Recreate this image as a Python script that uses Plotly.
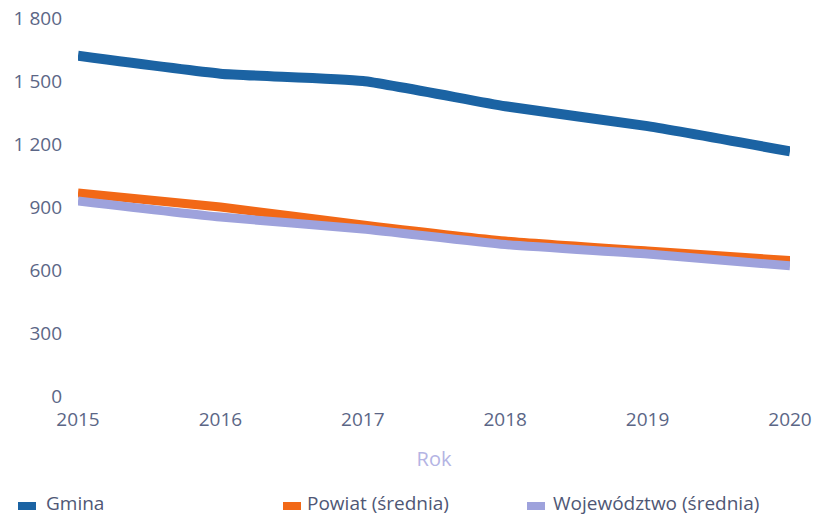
import plotly.graph_objects as go

years = [2015, 2016, 2017, 2018, 2019, 2020]
gmina = [1620, 1535, 1500, 1380, 1285, 1165]
powiat = [967, 900, 815, 738, 690, 645]
wojewodztwo = [929, 852, 795, 721, 676, 620]
series_names = ["Gmina", "Powiat (średnia)", "Województwo (średnia)"]
y_ticks = [0, 300, 600, 900, 1200, 1500, 1800]

colors = ["#1b63a3", "#f26816", "#9ea2dc"]
widths = [10, 9, 9]

W, H = 816, 518
L, R, T, B = 78, 26, 18, 122
pw, ph = W - L - R, H - T - B

def px_x(x):
    return (x - L) / pw

def px_y(y):
    return (H - B - y) / ph

fig = go.Figure()
for name, vals, c, w in zip(series_names, [gmina, powiat, wojewodztwo], colors, widths):
    fig.add_trace(go.Scatter(
        x=years, y=vals, name=name, mode="lines",
        line=dict(color=c, width=w, shape="spline", smoothing=0.5),
        cliponaxis=False, showlegend=False,
    ))

font = "Open Sans, DejaVu Sans, sans-serif"
tick_color = "#5b6686"

# manual legend
legend_pos = [(18, 44), (283, 305), (527, 551)]
shapes = []
annotations = []
for (sx, tx), name, c in zip(legend_pos, series_names, colors):
    shapes.append(dict(type="rect", xref="paper", yref="paper",
                       x0=px_x(sx), x1=px_x(sx + 18), y0=px_y(510), y1=px_y(502),
                       fillcolor=c, line=dict(width=0)))
    annotations.append(dict(text=name, xref="paper", yref="paper",
                            x=px_x(tx), y=px_y(503), xanchor="left", yanchor="middle",
                            showarrow=False, font=dict(family=font, size=19, color="#4f5775")))

fig.update_layout(
    width=W, height=H,
    margin=dict(l=L, r=R, t=T, b=B, autoexpand=False),
    paper_bgcolor="white", plot_bgcolor="white",
    separators=", ",
    font=dict(family=font, size=19, color=tick_color),
    shapes=shapes, annotations=annotations,
    showlegend=False,
    xaxis=dict(
        range=[2015, 2020], tickvals=years, showgrid=False, zeroline=False,
        showline=False, ticks="", ticklabelstandoff=10, automargin=False,
        tickfont=dict(size=19, color=tick_color),
        title=dict(text="Rok", font=dict(size=20, color="#b4b4e4"), standoff=20),
    ),
    yaxis=dict(
        range=[0, 1800], tickvals=y_ticks, showgrid=False, zeroline=False,
        showline=False, ticks="", separatethousands=True, ticklabelstandoff=15,
        automargin=False,
        tickfont=dict(size=19, color=tick_color),
    ),
)

fig.write_html(
    "out.html",
    config={"displayModeBar": False},
    post_script="document.body.style.margin='0';document.body.style.overflow='hidden';",
)
